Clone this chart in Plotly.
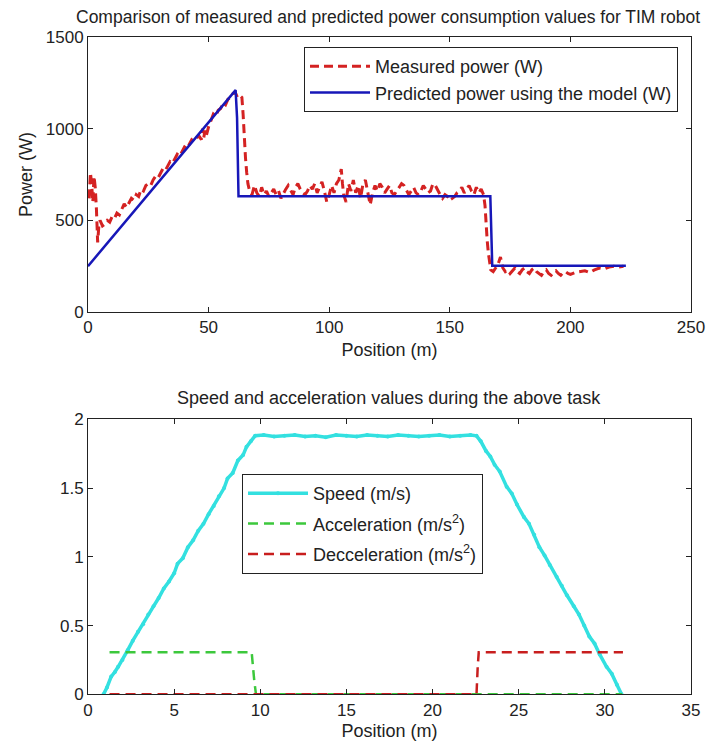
import plotly.graph_objects as go

# ---------------- data: top chart ----------------
meas_pos = [0.5, 1.0, 1.5, 2.0, 2.5, 3.0, 3.5, 4.0, 4.5, 5.0, 6.0, 7.0, 8.0, 9.0, 10.0,
            11.0, 12.0, 13.0, 14.0, 15.0, 16.0, 17.0, 18.0, 19.0, 20.0, 21.0, 22.0, 23.0,
            24.0, 25.0, 26.0, 27.0, 28.0, 29.0, 30.0, 31.0, 32.0, 33.0, 34.0, 35.0, 36.0,
            37.0, 38.0, 39.0, 40.0, 41.0, 42.0, 43.0, 44.0, 45.0, 46.0, 47.0, 47.5, 48.0,
            48.5, 49.0, 50.0, 51.0, 52.0, 53.0, 54.0, 55.0, 56.0, 57.0, 58.0, 59.0, 60.0,
            61.0, 62.0, 63.0, 63.8, 64.3, 64.8, 65.3, 65.8, 66.3, 67.0, 68.0, 69.0, 70.0,
            71.0, 72.0, 73.0, 74.0, 75.0, 76.0, 77.0, 78.0, 79.0, 80.0, 81.0, 82.0, 83.0,
            84.0, 85.0, 86.0, 87.0, 88.0, 89.0, 90.0, 91.0, 92.0, 93.0, 94.0, 95.0, 96.0,
            97.0, 98.0, 99.0, 100.0, 101.0, 102.0, 103.0, 104.0, 105.0, 105.5, 106.0,
            107.0, 108.0, 109.0, 110.0, 111.0, 112.0, 113.0, 114.0, 115.0, 116.0, 117.0,
            118.0, 119.0, 120.0, 121.0, 122.0, 123.0, 124.0, 125.0, 126.0, 127.0, 128.0,
            129.0, 130.0, 131.0, 132.0, 133.0, 134.0, 135.0, 136.0, 137.0, 138.0, 139.0,
            140.0, 141.0, 142.0, 143.0, 144.0, 145.0, 146.0, 147.0, 148.0, 149.0, 150.0,
            151.0, 152.0, 153.0, 154.0, 155.0, 156.0, 157.0, 158.0, 159.0, 160.0, 161.0,
            162.0, 163.0, 164.0, 164.6, 165.0, 165.5, 166.0, 166.5, 167.0, 168.0, 169.0,
            170.0, 171.0, 172.0, 173.0, 174.0, 175.0, 176.0, 177.0, 178.0, 179.0, 180.0,
            181.0, 182.0, 183.0, 184.0, 185.0, 186.0, 187.0, 188.0, 189.0, 190.0, 191.0,
            192.0, 193.0, 194.0, 195.0, 196.0, 197.0, 198.0, 199.0, 200.0, 202.0, 204.0,
            206.0, 208.0, 210.0, 212.0, 214.0, 216.0, 218.0, 220.0, 222.0]
meas_power = [620, 760, 700, 600, 740, 680, 560, 380, 470, 500, 470, 480, 500, 490, 520,
              510, 540, 530, 560, 590, 570, 600, 620, 610, 640, 630, 670, 660,
              690, 700, 690, 720, 740, 730, 760, 780, 770, 800, 820, 810, 840,
              860, 850, 880, 900, 890, 920, 940, 930, 950, 960, 940, 1000, 950,
              990, 960, 1010, 1050, 1080, 1070, 1100, 1110, 1140, 1130, 1160, 1170, 1190,
              1200, 1170, 1180, 1170, 1080, 920, 840, 760, 700, 660, 640, 690, 650,
              630, 680, 640, 660, 630, 650, 670, 640, 660, 620, 650, 670, 690,
              660, 640, 680, 700, 670, 650, 640, 660, 690, 670, 700, 650, 680,
              710, 660, 600, 640, 690, 650, 700, 720, 780, 700, 640,
              600, 700, 660, 720, 650, 690, 620, 700, 720, 640, 585,
              650, 690, 660, 700, 680, 650, 670, 690, 650, 640, 660,
              680, 700, 690, 660, 640, 660, 680, 650, 640, 660, 690,
              670, 650, 660, 700, 690, 660, 640, 620, 640, 630, 640,
              620, 630, 650, 660, 680, 650, 670, 690, 660, 640, 680,
              650, 670, 640, 580, 480, 390, 320, 260, 230, 220, 240,
              260, 300, 240, 220, 230, 210, 225, 240, 220, 210, 230,
              240, 220, 210, 230, 240, 220, 210, 200, 220, 230, 210,
              200, 215, 225, 210, 200, 215, 220, 210, 205, 215, 220,
              225, 215, 230, 240, 235, 245, 250, 245, 250]

pred_pos = [0, 61.2, 61.8, 62.4, 166.8, 167.6, 223]
pred_power = [250, 1210, 1060, 632, 632, 252, 252]

# ---------------- data: bottom chart ----------------
speed_pos = [0.9, 1.1, 1.35, 1.55, 1.75, 2.0, 2.3, 2.6, 2.9, 3.2, 3.5, 3.8, 4.1, 4.4,
             4.7, 5.0, 5.2, 5.5, 5.8, 6.1, 6.4, 6.7, 7.0, 7.3, 7.6, 7.9, 8.1, 8.4, 8.7,
             9.0, 9.2, 9.45, 9.7, 10.2, 10.8, 11.4, 12.0, 12.6, 13.2, 13.8, 14.4, 15.0,
             15.6, 16.2, 16.8, 17.4, 18.0, 18.6, 19.2, 19.8, 20.4, 21.0, 21.6, 22.2,
             22.55, 22.8, 23.1, 23.35, 23.6, 23.9, 24.3, 24.6, 24.9, 25.3, 25.6, 25.9,
             26.2, 26.5, 26.8, 27.2, 27.5, 27.8, 28.2, 28.5, 28.8, 29.1, 29.4, 29.7,
             30.1, 30.4, 30.7, 30.97]
speed_val = [0.0, 0.05, 0.13, 0.16, 0.2, 0.25, 0.32, 0.39, 0.455, 0.51, 0.58, 0.64, 0.70,
             0.77, 0.82, 0.88, 0.95, 0.99, 1.07, 1.12, 1.19, 1.24, 1.31, 1.37, 1.44, 1.50,
             1.57, 1.61, 1.70, 1.74, 1.80, 1.84, 1.88, 1.885, 1.875, 1.88, 1.885, 1.875,
             1.88, 1.87, 1.885, 1.88, 1.875, 1.885, 1.88, 1.875, 1.885, 1.88, 1.875, 1.88,
             1.885, 1.875, 1.88, 1.885, 1.88, 1.84, 1.77, 1.73, 1.67, 1.62, 1.51, 1.46,
             1.38, 1.29, 1.24, 1.16, 1.07, 1.01, 0.94, 0.855, 0.79, 0.72, 0.64, 0.58, 0.50,
             0.42, 0.37, 0.29, 0.20, 0.15, 0.07, 0.0]

accel_pos = [1.25, 9.5, 9.65, 9.75, 31.0]
accel_val = [0.305, 0.305, 0.1, 0.0, 0.0]

decel_pos = [1.25, 22.55, 22.62, 22.68, 31.05]
decel_val = [0.0, 0.0, 0.2, 0.305, 0.305]

# ---------------- figure ----------------
W, H = 707, 747
FONT = "Liberation Sans, Arial, Helvetica, sans-serif"
TXT = "#222222"
FS = 18

def px_x(p):
    return p / W

def px_y(p):
    return 1 - p / H

fig = go.Figure()

fig.add_trace(go.Scatter(x=meas_pos, y=meas_power, mode="lines",
                         name="Measured power (W)", legendgroup="m",
                         line=dict(color="#D42222", width=3, dash="9px,5px"),
                         xaxis="x", yaxis="y", legend="legend"))
fig.add_trace(go.Scatter(x=pred_pos, y=pred_power, mode="lines",
                         name="Predicted power using the model (W)", legendgroup="p",
                         line=dict(color="#1717B8", width=2.5),
                         xaxis="x", yaxis="y", legend="legend"))

fig.add_trace(go.Scatter(x=speed_pos, y=speed_val, mode="lines+markers",
                         name="Speed (m/s)", legendgroup="s",
                         line=dict(color="#33E0E0", width=3.5),
                         marker=dict(size=4, color="#33E0E0"),
                         xaxis="x2", yaxis="y2", legend="legend2"))
fig.add_trace(go.Scatter(x=accel_pos, y=accel_val, mode="lines",
                         name="Acceleration (m/s<sup>2</sup>)", legendgroup="a",
                         line=dict(color="#3CC83C", width=2.5, dash="10px,6px"),
                         xaxis="x2", yaxis="y2", legend="legend2"))
fig.add_trace(go.Scatter(x=decel_pos, y=decel_val, mode="lines",
                         name="Decceleration (m/s<sup>2</sup>)", legendgroup="d",
                         line=dict(color="#C81E1E", width=2.5, dash="10px,6px"),
                         xaxis="x2", yaxis="y2", legend="legend2"))

axis_common = dict(showline=True, linecolor=TXT, linewidth=1, mirror="ticks",
                   ticks="inside", ticklen=5, tickcolor=TXT, showgrid=False,
                   zeroline=False, automargin=False,
                   tickfont=dict(family=FONT, size=17, color=TXT))

fig.update_layout(
    width=W, height=H,
    margin=dict(l=0, r=0, t=0, b=0, autoexpand=False),
    paper_bgcolor="white", plot_bgcolor="white",
    font=dict(family=FONT, size=FS, color=TXT),
    xaxis=dict(domain=[px_x(88), px_x(691)], anchor="y", range=[0, 250],
               tickvals=[0, 50, 100, 150, 200, 250],
               title=dict(text="Position (m)", standoff=6,
                          font=dict(family=FONT, size=FS)),
               **axis_common),
    yaxis=dict(domain=[px_y(312), px_y(37)], anchor="x", range=[0, 1500],
               tickvals=[0, 500, 1000, 1500],
               title=dict(text="Power (W)", standoff=8,
                          font=dict(family=FONT, size=FS)),
               **axis_common),
    xaxis2=dict(domain=[px_x(88), px_x(691)], anchor="y2", range=[0, 35],
                tickvals=[0, 5, 10, 15, 20, 25, 30, 35],
                title=dict(text="Position (m)", standoff=5,
                           font=dict(family=FONT, size=FS)),
                **axis_common),
    yaxis2=dict(domain=[px_y(694.3), px_y(419.3)], anchor="x2", range=[0, 2],
                tickvals=[0, 0.5, 1, 1.5, 2], ticktext=["0", "0.5", "1", "1.5", "2"],
                **axis_common),
    legend=dict(x=px_x(304), y=px_y(47), xanchor="left", yanchor="top",
                bgcolor="white", bordercolor=TXT, borderwidth=1,
                font=dict(family=FONT, size=FS, color=TXT),
                itemwidth=60, tracegroupgap=0),
    legend2=dict(x=px_x(242), y=px_y(474), xanchor="left", yanchor="top",
                 bgcolor="white", bordercolor=TXT, borderwidth=1,
                 font=dict(family=FONT, size=FS, color=TXT),
                 itemwidth=60, tracegroupgap=4),
    showlegend=True,
    annotations=[
        dict(text="Comparison of measured and predicted power consumption values for TIM robot",
             x=px_x(388), y=px_y(17), xref="paper", yref="paper",
             xanchor="center", yanchor="middle", showarrow=False,
             font=dict(family=FONT, size=17.5, color=TXT)),
        dict(text="Speed and acceleration values during the above task",
             x=px_x(389), y=px_y(398), xref="paper", yref="paper",
             xanchor="center", yanchor="middle", showarrow=False,
             font=dict(family=FONT, size=FS, color=TXT)),
    ],
)

fig.write_html("out.html",
               config={"displayModeBar": False},
               post_script="document.body.style.margin='0';document.body.style.overflow='hidden';")
